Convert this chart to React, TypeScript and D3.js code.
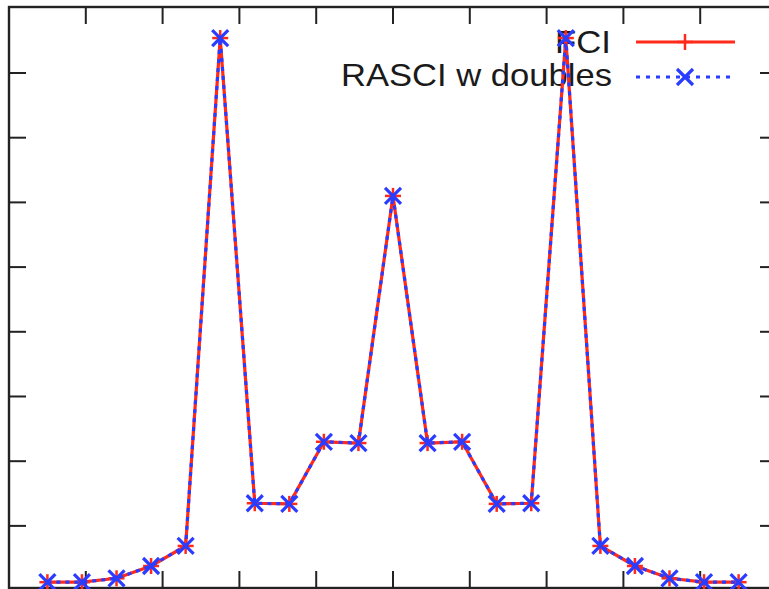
import React from "react";
import * as d3 from "d3";

const xValues = [-4.5, -4.05, -3.6, -3.15, -2.7, -2.25, -1.8, -1.35, -0.9, -0.45, 0, 0.45, 0.9, 1.35, 1.8, 2.25, 2.7, 3.15, 3.6, 4.05, 4.5];
const fciValues = [0.13, 0.13, 0.19, 0.38, 0.69, 8.54, 1.35, 1.34, 2.3, 2.28, 6.1, 2.28, 2.3, 1.34, 1.35, 8.54, 0.69, 0.38, 0.19, 0.13, 0.13];
const rasciValues = [0.13, 0.13, 0.19, 0.38, 0.69, 8.54, 1.35, 1.34, 2.3, 2.28, 6.1, 2.28, 2.3, 1.34, 1.35, 8.54, 0.69, 0.38, 0.19, 0.13, 0.13];
const xTicks = [-4, -3, -2, -1, 0, 1, 2, 3, 4];
const yTicks = [1, 2, 3, 4, 5, 6, 7, 8];
const seriesNames = ["FCI", "RASCI w doubles"];

const W = 769;
const H = 589;

export default function App() {
  const x = d3.scaleLinear().domain([-5, 5]).range([9, 777]);
  const y = d3.scaleLinear().domain([0.04, 9.02]).range([588, 7]);
  const left = x(-5), right = x(5), top = y(9.02), bottom = y(0.04);
  const tickLen = 17;

  const fciPts: [number, number][] = xValues.map((v, i) => [x(v), y(fciValues[i])]);
  const rasciPts: [number, number][] = xValues.map((v, i) => [x(v), y(rasciValues[i])]);
  const line = d3.line();

  const red = "#ff2a1a";
  const blue = "#2a3cff";
  const ms = 8;

  const plus = (cx: number, cy: number, k: string) => (
    <g key={k} stroke={red} strokeWidth={2.5}>
      <line x1={cx - ms} y1={cy} x2={cx + ms} y2={cy} />
      <line x1={cx} y1={cy - ms} x2={cx} y2={cy + ms} />
    </g>
  );
  const cross = (cx: number, cy: number, k: string) => (
    <g key={k} stroke={blue} strokeWidth={3.2}>
      <line x1={cx - ms} y1={cy - ms} x2={cx + ms} y2={cy + ms} />
      <line x1={cx - ms} y1={cy + ms} x2={cx + ms} y2={cy - ms} />
    </g>
  );

  const font = "'Liberation Sans', Arial, Helvetica, sans-serif";
  const legX1 = 636, legX2 = 735, legMid = 685;

  return (
    <svg width={W} height={H} style={{ position: "absolute", left: 0, top: 0, background: "#fff" }}>
      <rect x={0} y={0} width={W} height={H} fill="#fff" />
      {/* ticks */}
      <g stroke="#222" strokeWidth={2}>
        {xTicks.map((t) => (
          <g key={"xt" + t}>
            <line x1={x(t)} x2={x(t)} y1={bottom} y2={bottom - tickLen} />
            <line x1={x(t)} x2={x(t)} y1={top} y2={top + tickLen} />
          </g>
        ))}
        {yTicks.map((t) => (
          <g key={"yt" + t}>
            <line x1={left} x2={left + tickLen} y1={y(t)} y2={y(t)} />
            <line x1={right} x2={right - tickLen} y1={y(t)} y2={y(t)} />
          </g>
        ))}
      </g>
      <rect x={left} y={top} width={right - left} height={bottom - top} fill="none" stroke="#222" strokeWidth={2.4} />

      {/* legend */}
      <text x={611} y={53} textAnchor="end" fontFamily={font} fontSize={32} fill="#1a1a1a" textLength={56} lengthAdjust="spacingAndGlyphs">{seriesNames[0]}</text>
      <text x={612} y={86} textAnchor="end" fontFamily={font} fontSize={32} fill="#1a1a1a" textLength={271} lengthAdjust="spacingAndGlyphs">{seriesNames[1]}</text>
      <line x1={legX1} x2={legX2} y1={42} y2={42} stroke={red} strokeWidth={3} />
      {plus(legMid, 42, "lp")}
      <line x1={legX1} x2={legX2} y1={77} y2={77} stroke={blue} strokeWidth={3} strokeDasharray="4,6" />
      {cross(legMid, 77, "lc")}

      {/* data */}
      <path d={line(fciPts) || ""} fill="none" stroke={red} strokeWidth={3.2} />
      {fciPts.map((p, i) => plus(p[0], p[1], "p" + i))}
      <path d={line(rasciPts) || ""} fill="none" stroke={blue} strokeWidth={3.2} strokeDasharray="4,5" />
      {rasciPts.map((p, i) => cross(p[0], p[1], "c" + i))}
    </svg>
  );
}
